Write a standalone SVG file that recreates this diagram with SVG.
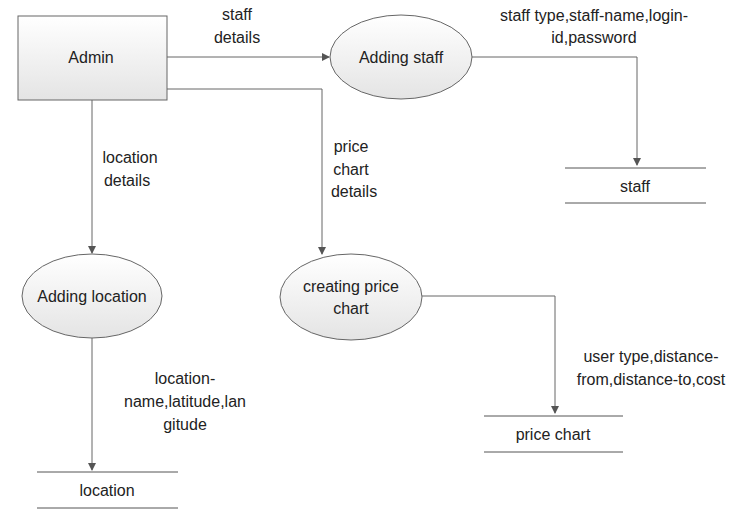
<svg xmlns="http://www.w3.org/2000/svg" width="752" height="512" viewBox="0 0 752 512">
<defs>
<linearGradient id="g" x1="0" y1="0" x2="0" y2="1"><stop offset="0" stop-color="#ffffff"/><stop offset="1" stop-color="#e4e4e4"/></linearGradient>
<marker id="a" markerWidth="8" markerHeight="8" refX="7" refY="4" orient="auto" markerUnits="userSpaceOnUse"><path d="M0,0 L8,4 L0,8 Z" fill="#555"/></marker>
<style>
text{font-family:"Liberation Sans",Arial,sans-serif;font-size:16px;fill:#222;text-anchor:middle}
.n{fill:url(#g);stroke:#666;stroke-width:1}
.c{fill:none;stroke:#666;stroke-width:1;marker-end:url(#a)}
.s{stroke:#555;stroke-width:1}
</style>
</defs>
<g id="connectors">
<path class="c" d="M167,57 H329"/>
<path class="c" d="M167,89 H322 V254"/>
<path class="c" d="M92,100 V253"/>
<path class="c" d="M472,57 H637 V165"/>
<path class="c" d="M422,296 H555 V413"/>
<path class="c" d="M92,338 V470"/>
<text x="237" y="20">staff</text><text x="237" y="43">details</text>
<text x="130" y="163">location</text><text x="127" y="186">details</text>
<text x="351" y="152">price</text><text x="351" y="175">chart</text><text x="354" y="197">details</text>
<text x="594" y="21">staff type,staff-name,login-</text><text x="594" y="43">id,password</text>
<text x="651" y="362">user type,distance-</text><text x="651" y="385">from,distance-to,cost</text>
<text x="185" y="384">location-</text><text x="185" y="407">name,latitude,lan</text><text x="185" y="430">gitude</text>
</g>
<g id="admin"><rect class="n" x="18" y="16" width="149" height="84"/><text x="91" y="63">Admin</text></g>
<g id="adding-staff"><ellipse class="n" cx="401" cy="57" rx="71" ry="42"/><text x="401" y="63">Adding staff</text></g>
<g id="adding-location"><ellipse class="n" cx="92" cy="296" rx="70" ry="42"/><text x="92" y="302">Adding location</text></g>
<g id="creating-price-chart"><ellipse class="n" cx="351" cy="297" rx="71" ry="43"/><text x="351" y="292">creating price</text><text x="351" y="314">chart</text></g>
<g id="staff"><line class="s" x1="565" y1="168" x2="706" y2="168"/><line class="s" x1="565" y1="203" x2="706" y2="203"/><text x="635" y="192">staff</text></g>
<g id="price-chart"><line class="s" x1="484" y1="416" x2="623" y2="416"/><line class="s" x1="484" y1="452" x2="623" y2="452"/><text x="553" y="440">price chart</text></g>
<g id="location"><line class="s" x1="37" y1="472" x2="178" y2="472"/><line class="s" x1="37" y1="508" x2="178" y2="508"/><text x="107" y="496">location</text></g>
</svg>
